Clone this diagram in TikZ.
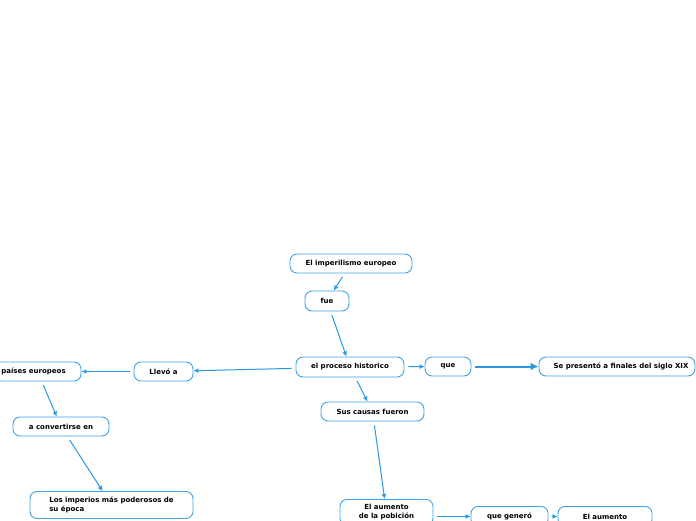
\documentclass[tikz,border=0pt]{standalone}
\usepackage{fontspec}
\setmainfont{DejaVu Sans}
\usetikzlibrary{arrows.meta,positioning}
\definecolor{mapline}{HTML}{3FA3EA}
\definecolor{maparrow}{HTML}{2A98E2}
\tikzset{
  topic/.style={draw=mapline,fill=white,rounded corners=7pt,line width=0.9pt,align=center,
    minimum height=19pt,inner sep=2pt,font=\fontsize{7}{9}\selectfont\bfseries},
  link/.style={-{Latex[length=5pt,width=5pt]},draw=maparrow,line width=1pt,shorten <=4pt},
  boldlink/.style={link,line width=2pt,-{Latex[length=8pt,width=8pt]}}
}
\begin{document}
\begin{tikzpicture}[x=1pt,y=1pt]
        \useasboundingbox (0,0) rectangle (696,520);
        \clip (0,0) rectangle (696,520);
        \node[topic,minimum width=122pt] (imp) at (351,256.5) {El imperilismo europeo};
        \node[topic,minimum width=44pt,minimum height=20pt] (fue) at (327,219) {fue};
        \node[topic,minimum width=108pt,minimum height=20pt] (proc) at (350,153) {el proceso historico};
        \node[topic,minimum width=46pt] (que) at (448,153.5) {que};
        \node[topic,minimum width=156pt] (siglo) at (617,153.5) {\hspace*{8pt}Se presentó a finales del siglo XIX};
        \node[topic,minimum width=103pt] (causas) at (372.5,108.5) {Sus causas fueron};
        \node[topic,minimum width=59pt] (llevo) at (163.5,148.5) {Llevó a};
        \node[topic,minimum width=87pt] (paises) at (37.5,148.5) {países europeos\hspace*{8pt}};
        \node[topic,minimum width=96pt] (conv) at (61,93.5) {a convertirse en};
        \node[topic,minimum width=163pt,minimum height=27pt,align=left] (imperios) at (111.5,15)
          {Los imperios más poderosos de\\su época\hspace*{29pt}};
        \node[topic,anchor=north,minimum width=93pt,inner ysep=5pt] (pob) at (386.5,21) {El aumento\\de la pobición};
        \node[topic,anchor=north,minimum width=77pt,minimum height=20pt] (gen) at (509.5,14) {que generó};
        \node[topic,anchor=north,minimum width=94pt,minimum height=20pt] (aum) at (605,14) {El aumento};
        \draw[link] (imp)--(fue);
        \draw[link] (fue)--(proc);
        \draw[link] (proc)--(que);
        \draw[boldlink] (que)--(siglo);
        \draw[link] (proc)--(causas);
        \draw[link] (proc)--(llevo);
        \draw[link] (llevo)--(paises);
        \draw[link] (paises)--(conv);
        \draw[link] (conv)--(imperios);
        \draw[link] (causas)--(pob);
        \draw[link] (pob.east |- gen.west)--(gen.west);
        \draw[link] (gen)--(aum);
      \end{tikzpicture}
\end{document}
